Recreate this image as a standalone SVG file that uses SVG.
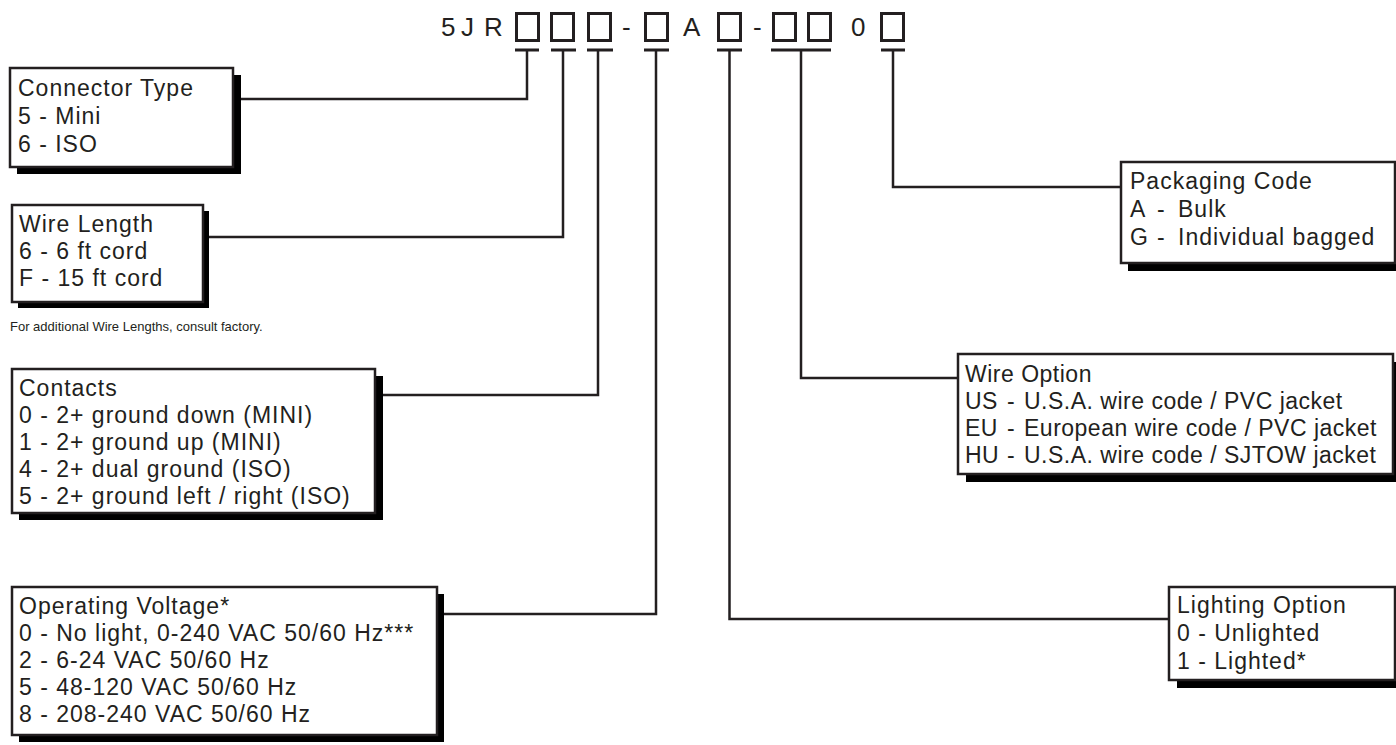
<svg xmlns="http://www.w3.org/2000/svg" width="1396" height="745" viewBox="0 0 1396 745">
<style>
.t{font-family:"Liberation Sans",Arial,sans-serif;font-size:23px;letter-spacing:1px;fill:#231f20}
.tw{letter-spacing:0.5px}
.code{font-family:"Liberation Sans",Arial,sans-serif;font-size:26px;fill:#231f20}
.note{font-family:"Liberation Sans",Arial,sans-serif;font-size:13px;fill:#231f20}
.box{fill:#fff;stroke:#231f20;stroke-width:2.5}
.sh{fill:#000}
.slot{fill:none;stroke:#231f20;stroke-width:3}
.ln{fill:none;stroke:#231f20;stroke-width:2.5}
.bar{fill:none;stroke:#231f20;stroke-width:3}
</style>
<rect width="1396" height="745" fill="#fff"/>
<g id="code">
<text class="code" x="441" y="36">5</text>
<text class="code" x="461" y="36">J</text>
<text class="code" x="484" y="36">R</text>
<rect class="slot" x="516.5" y="13.5" width="22" height="27"/>
<rect class="slot" x="551.5" y="13.5" width="22" height="27"/>
<rect class="slot" x="588.5" y="13.5" width="22" height="27"/>
<text class="code" x="622" y="36">-</text>
<rect class="slot" x="645.5" y="13.5" width="22" height="27"/>
<text class="code" x="683" y="36">A</text>
<rect class="slot" x="718.5" y="13.5" width="22" height="27"/>
<text class="code" x="753" y="36">-</text>
<rect class="slot" x="773.5" y="13.5" width="22" height="27"/>
<rect class="slot" x="808.5" y="13.5" width="22" height="27"/>
<text class="code" x="851" y="36">0</text>
<rect class="slot" x="881.5" y="13.5" width="22" height="27"/>
</g>
<g id="connectors">
<path class="bar" d="M515 50H539M551 50H576M587 50H613M644 50H669M717 50H742M771 50H831M881 50H905"/>
<path class="ln" d="M527 50V99H241"/>
<path class="ln" d="M563 50V237H208"/>
<path class="ln" d="M598 50V395H383"/>
<path class="ln" d="M656 50V614H444"/>
<path class="ln" d="M729.5 50V619H1169"/>
<path class="ln" d="M801 50V378H958"/>
<path class="ln" d="M893 50V187H1121"/>
</g>
<g id="connector-type">
<rect class="sh" x="17" y="75" width="224" height="99"/>
<rect class="box" x="10" y="68" width="223" height="99"/>
<text class="t" x="18" y="96">Connector Type</text>
<text class="t" x="18" y="124">5 - Mini</text>
<text class="t" x="18" y="152">6 - ISO</text>
</g>
<g id="wire-length">
<rect class="sh" x="18" y="211" width="191" height="97"/>
<rect class="box" x="12" y="205" width="191" height="97"/>
<text class="t" x="19" y="232">Wire Length</text>
<text class="t" x="19" y="259">6 - 6 ft cord</text>
<text class="t" x="19" y="286">F - 15 ft cord</text>
</g>
<text id="wire-note" class="note" x="10" y="331">For additional Wire Lengths, consult factory.</text>
<g id="contacts">
<rect class="sh" x="19" y="376" width="364" height="144"/>
<rect class="box" x="12" y="369" width="363" height="144"/>
<text class="t" x="19" y="396">Contacts</text>
<text class="t" x="19" y="423">0 - 2+ ground down (MINI)</text>
<text class="t" x="19" y="450">1 - 2+ ground up (MINI)</text>
<text class="t" x="19" y="477">4 - 2+ dual ground (ISO)</text>
<text class="t" x="19" y="504">5 - 2+ ground left / right (ISO)</text>
</g>
<g id="operating-voltage">
<rect class="sh" x="19" y="594" width="425" height="148"/>
<rect class="box" x="12" y="587" width="425" height="148"/>
<text class="t" x="19" y="614">Operating Voltage*</text>
<text class="t" x="19" y="641">0 - No light, 0-240 VAC 50/60 Hz***</text>
<text class="t" x="19" y="668">2 - 6-24 VAC 50/60 Hz</text>
<text class="t" x="19" y="695">5 - 48-120 VAC 50/60 Hz</text>
<text class="t" x="19" y="722">8 - 208-240 VAC 50/60 Hz</text>
</g>
<g id="packaging-code">
<rect class="sh" x="1128" y="170" width="274" height="101"/>
<rect class="box" x="1121" y="162" width="274" height="101"/>
<text class="t" x="1130" y="189">Packaging Code</text>
<text class="t" y="217"><tspan x="1130">A</tspan><tspan x="1157">-</tspan><tspan x="1178">Bulk</tspan></text>
<text class="t" y="245"><tspan x="1130">G</tspan><tspan x="1157">-</tspan><tspan x="1178">Individual bagged</tspan></text>
</g>
<g id="wire-option">
<rect class="sh" x="966" y="362" width="435" height="120"/>
<rect class="box" x="958" y="354" width="435" height="120"/>
<text class="t tw" x="965" y="382">Wire Option</text>
<text class="t tw" y="409"><tspan x="965">US</tspan><tspan x="1007">-</tspan><tspan x="1024">U.S.A. wire code / PVC jacket</tspan></text>
<text class="t tw" y="436"><tspan x="965">EU</tspan><tspan x="1007">-</tspan><tspan x="1024">European wire code / PVC jacket</tspan></text>
<text class="t tw" y="463"><tspan x="965">HU</tspan><tspan x="1007">-</tspan><tspan x="1024">U.S.A. wire code / SJTOW jacket</tspan></text>
</g>
<g id="lighting-option">
<rect class="sh" x="1177" y="595" width="226" height="93"/>
<rect class="box" x="1169" y="587" width="226" height="93"/>
<text class="t" x="1177" y="613">Lighting Option</text>
<text class="t" x="1177" y="641">0 - Unlighted</text>
<text class="t" x="1177" y="669">1 - Lighted*</text>
</g>
</svg>
